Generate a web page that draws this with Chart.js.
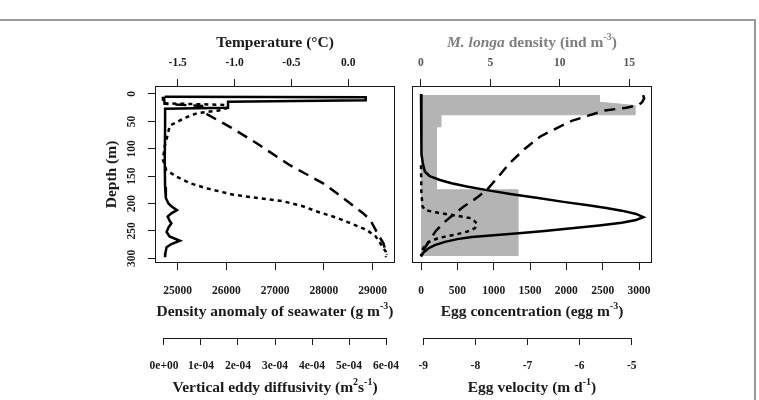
<!DOCTYPE html>
<html>
<head>
<meta charset="utf-8">
<script src="https://cdn.jsdelivr.net/npm/chart.js@4.4.1/dist/chart.umd.min.js"></script>
<style>
  html, body { margin: 0; padding: 0; background: #fff; }
  #page { position: relative; width: 759px; height: 400px; overflow: hidden; }
  #frame { position: absolute; left: 0; top: 19px; width: 754px; height: 400px;
           border-top: 2px solid #9a9a9a; border-right: 2px solid #9a9a9a; }
  canvas { position: absolute; top: 0; }
  #left { left: 0; }
  #right { left: 404px; }
</style>
</head>
<body>
<div id="page">
  <div id="frame"></div>
  <canvas id="left" width="404" height="400"></canvas>
  <canvas id="right" width="355" height="400"></canvas>
</div>
<script>
const FAMILY = '"Liberation Serif", "Times New Roman", serif';
const INK = '#1a1a1a';
Chart.defaults.font.family = FAMILY;
Chart.defaults.font.weight = 'bold';
Chart.defaults.font.size = 11.5;
Chart.defaults.color = INK;

// shared depth axis (m)
const depthTicks = [0, 50, 100, 150, 200, 250, 300];

// left panel axes
const tempTicks = [-1.5, -1.0, -0.5, 0.0];
const densTicks = [25000, 26000, 27000, 28000, 29000];
const kzTicks = [0, 1e-4, 2e-4, 3e-4, 4e-4, 5e-4, 6e-4];
const kzLabels = ['0e+00', '1e-04', '2e-04', '3e-04', '4e-04', '5e-04', '6e-04'];

// vertical eddy diffusivity (solid)
const kzDepth = [5, 6, 11.5, 14, 25, 27, 60, 120, 170, 190, 200, 205, 212, 218, 224, 231, 236, 244, 252, 260, 268, 274, 280, 290, 298];
const kzValue = [0.02e-4, 5.45e-4, 5.45e-4, 1.73e-4, 1.73e-4, 0.03e-4, 0.03e-4, 0.02e-4, 0.03e-4, 0.05e-4, 0.12e-4, 0.2e-4, 0.35e-4, 0.2e-4, 0.1e-4, 0.15e-4, 0.2e-4, 0.12e-4, 0.07e-4, 0.15e-4, 0.43e-4, 0.2e-4, 0.07e-4, 0.04e-4, 0.03e-4];

// temperature (dotted)
const tempDepth = [5, 17, 20, 26, 30, 35, 44, 58, 76, 96, 120, 139, 151, 163, 172, 184, 196, 205, 215, 226, 236, 248, 260, 272, 288, 298];
const tempValue = [-1.63, -1.63, -1.07, -1.07, -1.14, -1.33, -1.44, -1.57, -1.59, -1.615, -1.63, -1.6, -1.51, -1.39, -1.25, -1.01, -0.57, -0.4, -0.27, -0.1, 0.02, 0.16, 0.24, 0.28, 0.33, 0.33];

// density anomaly (dashed)
const densDepth = [5, 18, 22, 35, 60, 90, 130, 165, 200, 218, 230, 260, 272, 294];
const densValue = [24720, 24730, 25500, 25560, 26070, 26620, 27300, 28020, 28540, 28807, 28950, 29130, 29218, 29287];

// right panel axes
const mlTicks = [0, 5, 10, 15];
const eggTicks = [0, 500, 1000, 1500, 2000, 2500, 3000];
const velTicks = [-9, -8, -7, -6, -5];

// M. longa density (grey profile)
const mlDepth = [2, 15, 21, 38, 38, 60, 60, 175, 175, 296];
const mlValue = [12.85, 12.85, 15.4, 15.4, 1.42, 1.42, 1.1, 1.1, 6.97, 6.97];

// egg concentration (solid)
const eggDepth = [0, 60, 110, 126, 135, 142, 150, 157, 163, 169, 176, 183, 190, 197, 203, 208, 213, 219, 225, 230, 235, 240, 245, 250, 254, 258, 261, 265, 270, 276, 282, 290, 297];
const eggConc = [0, 2, 10, 25, 40, 55, 120, 260, 420, 630, 926, 1250, 1614, 1960, 2302, 2550, 2762, 2960, 3060, 2960, 2762, 2450, 2074, 1700, 1386, 1000, 698, 500, 330, 190, 100, 30, 0];

// egg concentration, second case (dotted)
const egg2Depth = [130, 180, 205, 212, 217, 222, 227, 236, 245, 251, 257, 263, 270, 278, 286, 296];
const egg2Conc = [0, 5, 20, 55, 238, 480, 698, 766, 743, 640, 468, 238, 110, 45, 12, 0];

// egg velocity (dashed)
const velDepth = [2, 8, 15, 20, 25, 30, 40, 49, 67, 78, 100, 126, 150, 175, 190, 206, 220, 236, 250, 266, 285, 292];
const velValue = [-4.78, -4.76, -4.8, -4.87, -5.1, -5.51, -5.85, -6.15, -6.54, -6.76, -7.05, -7.34, -7.55, -7.78, -7.98, -8.23, -8.42, -8.62, -8.76, -8.87, -9.0, -9.03];

const pts = (d, v) => d.map((y, i) => ({ x: v[i], y }));

function line(label, data, axis, dash) {
  return {
    label, data, xAxisID: axis, yAxisID: 'y',
    borderColor: '#000', borderWidth: 2.5, borderDash: dash,
    pointRadius: 0, tension: 0, fill: false
  };
}

function xAxis(o) {
  return {
    type: 'linear', position: o.position, min: o.min, max: o.max, weight: o.weight || 0,
    border: { display: false },
    grid: { drawOnChartArea: false, drawTicks: true, tickLength: 7, color: INK },
    ticks: { autoSkip: false, minRotation: 0, maxRotation: 0, padding: o.pad, color: o.color || INK,
             callback: o.cb },
    afterBuildTicks: s => { s.ticks = o.ticks.map(v => ({ value: v })); },
    afterFit: s => { s.height = o.height; s.paddingLeft = 0; s.paddingRight = 0; }
  };
}

function yAxis(show) {
  return {
    type: 'linear', position: 'left', reverse: true, min: -14.6, max: 308.6, display: show,
    border: { display: false },
    grid: { drawOnChartArea: false, tickLength: 7, color: INK },
    ticks: { autoSkip: false, minRotation: 90, maxRotation: 90, crossAlign: 'center', padding: 7 },
    afterBuildTicks: s => { s.ticks = depthTicks.map(v => ({ value: v })); },
    afterFit: s => { s.width = show ? 155 : 0; s.paddingTop = 0; s.paddingBottom = 0; }
  };
}

function drawRich(ctx, segs, x, y, color, rot) {
  const fontFor = k => (k === 'i' ? 'italic bold 15.5px ' : k === 'sup' ? 'bold 10px ' : 'bold 15.5px ') + FAMILY;
  let w = 0;
  segs.forEach(([t, k]) => { ctx.font = fontFor(k); w += ctx.measureText(t).width; });
  ctx.save();
  ctx.translate(x, y);
  if (rot) ctx.rotate(-Math.PI / 2);
  ctx.fillStyle = color;
  ctx.textBaseline = 'middle';
  ctx.textAlign = 'left';
  let cx = -w / 2;
  segs.forEach(([t, k]) => {
    ctx.font = fontFor(k);
    ctx.fillText(t, cx, k === 'sup' ? -6 : 0);
    cx += ctx.measureText(t).width;
  });
  ctx.restore();
}

// box, the free-standing extra axis line, and the axis titles
const panelDeco = {
  id: 'panelDeco',
  afterDraw(chart, args, o) {
    const { ctx, chartArea: a } = chart;
    ctx.save();
    ctx.strokeStyle = INK;
    ctx.lineWidth = 1;
    ctx.strokeRect(Math.round(a.left) + 0.5, Math.round(a.top) + 0.5,
                   Math.round(a.right - a.left) - 1, Math.round(a.bottom - a.top) - 1);
    const s = chart.scales[o.lineAxis];
    const t = s.ticks;
    const ly = Math.round(s.top) + 0.5;
    ctx.beginPath();
    ctx.moveTo(s.getPixelForValue(t[0].value), ly);
    ctx.lineTo(s.getPixelForValue(t[t.length - 1].value), ly);
    ctx.stroke();
    ctx.restore();
    const mid = (a.left + a.right) / 2;
    o.titles.forEach(tt => {
      const sc = chart.scales[tt.scale];
      if (tt.rot) drawRich(ctx, tt.segs, sc.left + tt.off, (a.top + a.bottom) / 2, tt.color || INK, true);
      else drawRich(ctx, tt.segs, mid, sc.top + tt.off, tt.color || INK, false);
    });
  }
};

new Chart(document.getElementById('left'), {
  type: 'line',
  data: {
    datasets: [
      line('Vertical eddy diffusivity', pts(kzDepth, kzValue), 'kz', []),
      line('Temperature', pts(tempDepth, tempValue), 'temp', [4, 4]),
      line('Density anomaly', pts(densDepth, densValue), 'dens', [11, 7])
    ]
  },
  options: {
    responsive: false, animation: false, indexAxis: 'y',
    layout: { padding: { left: 0, right: 9, top: 0, bottom: 0 } },
    plugins: {
      legend: { display: false }, tooltip: { enabled: false },
      panelDeco: {
        lineAxis: 'kz',
        titles: [
          { scale: 'temp', off: 43, segs: [['Temperature (°C)']] },
          { scale: 'y', off: 112, rot: true, segs: [['Depth (m)']] },
          { scale: 'dens', off: 49, segs: [['Density anomaly of seawater (g m'], ['-3', 'sup'], [')']] },
          { scale: 'kz', off: 50, segs: [['Vertical eddy diffusivity (m'], ['2', 'sup'], ['s'], ['-1', 'sup'], [')']] }
        ]
      }
    },
    scales: {
      y: yAxis(true),
      temp: xAxis({ position: 'top', min: -1.6996, max: 0.4106, ticks: tempTicks, height: 86, pad: 9,
                    cb: v => v.toFixed(1) }),
      dens: xAxis({ position: 'bottom', min: 24534, max: 29457, ticks: densTicks, height: 75, pad: 14,
                    cb: v => String(v) }),
      kz: xAxis({ position: 'bottom', weight: 1, min: -0.243e-4, max: 6.243e-4, ticks: kzTicks, height: 62, pad: 14,
                  cb: (v, i) => kzLabels[i] })
    }
  },
  plugins: [panelDeco]
});

new Chart(document.getElementById('right'), {
  type: 'line',
  data: {
    datasets: [
      line('Egg concentration', pts(eggDepth, eggConc), 'egg', []),
      line('Egg concentration 2', pts(egg2Depth, egg2Conc), 'egg', [4, 4]),
      line('Egg velocity', pts(velDepth, velValue), 'vel', [11, 7]),
      {
        label: 'M. longa density', data: pts(mlDepth, mlValue), xAxisID: 'ml', yAxisID: 'y',
        borderColor: '#b4b4b4', backgroundColor: '#b4b4b4', borderWidth: 1,
        pointRadius: 0, tension: 0, fill: 'origin', order: 5
      }
    ]
  },
  options: {
    responsive: false, animation: false, indexAxis: 'y',
    layout: { padding: { left: 8, right: 107, top: 0, bottom: 0 } },
    plugins: {
      legend: { display: false }, tooltip: { enabled: false },
      panelDeco: {
        lineAxis: 'vel',
        titles: [
          { scale: 'ml', off: 43, color: '#7f7f7f', segs: [['M. longa', 'i'], [' density (ind m'], ['-3', 'sup'], [')']] },
          { scale: 'egg', off: 49, segs: [['Egg concentration (egg m'], ['-3', 'sup'], [')']] },
          { scale: 'vel', off: 50, segs: [['Egg velocity (m d'], ['-1', 'sup'], [')']] }
        ]
      }
    },
    scales: {
      y: yAxis(false),
      ml: xAxis({ position: 'top', min: -0.648, max: 16.635, ticks: mlTicks, height: 86, pad: 9,
                  color: '#555', cb: v => String(v) }),
      egg: xAxis({ position: 'bottom', min: -123.9, max: 3178.9, ticks: eggTicks, height: 75, pad: 14,
                   cb: v => String(v) }),
      vel: xAxis({ position: 'bottom', weight: 1, min: -9.217, max: -4.61, ticks: velTicks, height: 62, pad: 14,
                   cb: v => String(v) })
    }
  },
  plugins: [panelDeco]
});
</script>
</body>
</html>
